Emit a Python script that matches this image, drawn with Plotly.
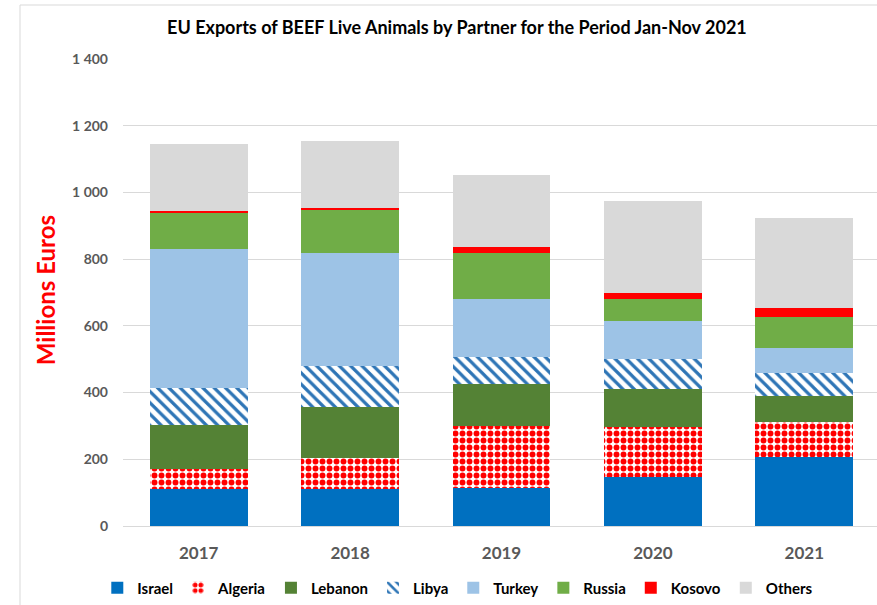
import plotly.graph_objects as go

years = ["2017", "2018", "2019", "2020", "2021"]
israel = [111, 110, 115, 148, 208]
algeria = [61, 95, 186, 150, 103]
lebanon = [131, 153, 124, 114, 80]
libya = [112, 122, 81, 89, 68]
turkey = [415, 338, 174, 114, 76]
russia = [109, 130, 139, 65, 92]
kosovo = [4, 4, 18, 18, 27]
others = [202, 202, 214, 275, 269]
totals = [1145, 1154, 1051, 973, 923]

FONT = "Lato"
GRAY = "#595959"

fig = go.Figure()

series = [
    ("Israel", israel, dict(color="#0070C0")),
    ("Algeria", algeria, dict(color="#FF0000",
                               pattern=dict(shape=".", fgcolor="#FF0000", bgcolor="#FFFFFF",
                                            size=7, solidity=0.55, fillmode="replace"))),
    ("Lebanon", lebanon, dict(color="#548235")),
    ("Libya", libya, dict(color="#2E75B6",
                           pattern=dict(shape="\\", fgcolor="#2E75B6", bgcolor="#FFFFFF",
                                        size=8, solidity=0.4, fillmode="replace"))),
    ("Turkey", turkey, dict(color="#9DC3E6")),
    ("Russia", russia, dict(color="#70AD47")),
    ("Kosovo", kosovo, dict(color="#FF0000")),
    ("Others", others, dict(color="#D9D9D9")),
]

for name, vals, marker in series:
    marker = dict(marker)
    marker["line"] = dict(width=0)
    fig.add_trace(go.Bar(x=years, y=vals, name=name, marker=marker))

for yr, tot in zip(years, totals):
    fig.add_annotation(x=yr, y=tot, text=f"{tot:,}".replace(",", " "),
                       showarrow=False, yshift=19, yanchor="middle",
                       font=dict(family=FONT, size=15, color="#000000", weight="bold"))

fig.add_annotation(xref="paper", yref="paper", x=-0.1034, y=0.505,
                   text="Millions Euros", textangle=-90, showarrow=False,
                   xanchor="center", yanchor="middle",
                   font=dict(family=FONT, size=24, color="#FF0000", weight="bold"))

# chart border (left and top)
fig.add_shape(type="line", xref="paper", yref="paper", x0=-0.1366, x1=-0.1366,
              y0=-0.17, y1=1.1156, line=dict(color="#D9D9D9", width=1))
fig.add_shape(type="line", xref="paper", yref="paper", x0=-0.1366, x1=1.0,
              y0=1.1156, y1=1.1156, line=dict(color="#D9D9D9", width=1))

fig.update_layout(
    width=877, height=605,
    margin=dict(l=123, r=0, t=59, b=79),
    barmode="stack", bargap=0.353,
    plot_bgcolor="#FFFFFF", paper_bgcolor="#FFFFFF",
    separators=". ",
    title=dict(text="EU Exports of BEEF Live Animals by Partner for the Period Jan-Nov 2021",
               x=0.521, xref="container", xanchor="center",
               y=0.954, yref="container", yanchor="middle",
               font=dict(family=FONT, size=18, color="#000000", weight="bold")),
    xaxis=dict(type="category", range=[-0.5, 4.48], showgrid=False, showline=False,
               ticks="", ticklabelstandoff=15,
               tickfont=dict(family=FONT, size=17, color=GRAY, weight="bold")),
    yaxis=dict(range=[0, 1400], dtick=200, tickformat=",", showgrid=True,
               gridcolor="#D9D9D9", gridwidth=1, zeroline=True, zerolinecolor="#D9D9D9",
               zerolinewidth=1, showline=False, ticks="", ticklabelstandoff=14,
               tickfont=dict(family=FONT, size=14, color=GRAY, weight="bold")),
    legend=dict(orientation="h", xref="container", x=0.522, xanchor="center",
                yref="container", y=0.028, yanchor="middle",
                itemwidth=30, traceorder="normal",
                font=dict(family=FONT, size=15, color="#000000", weight="bold")),
    font=dict(family=FONT),
)

fig.write_html("out.html", config={"displayModeBar": False},
               post_script="document.body.style.margin='0';")
